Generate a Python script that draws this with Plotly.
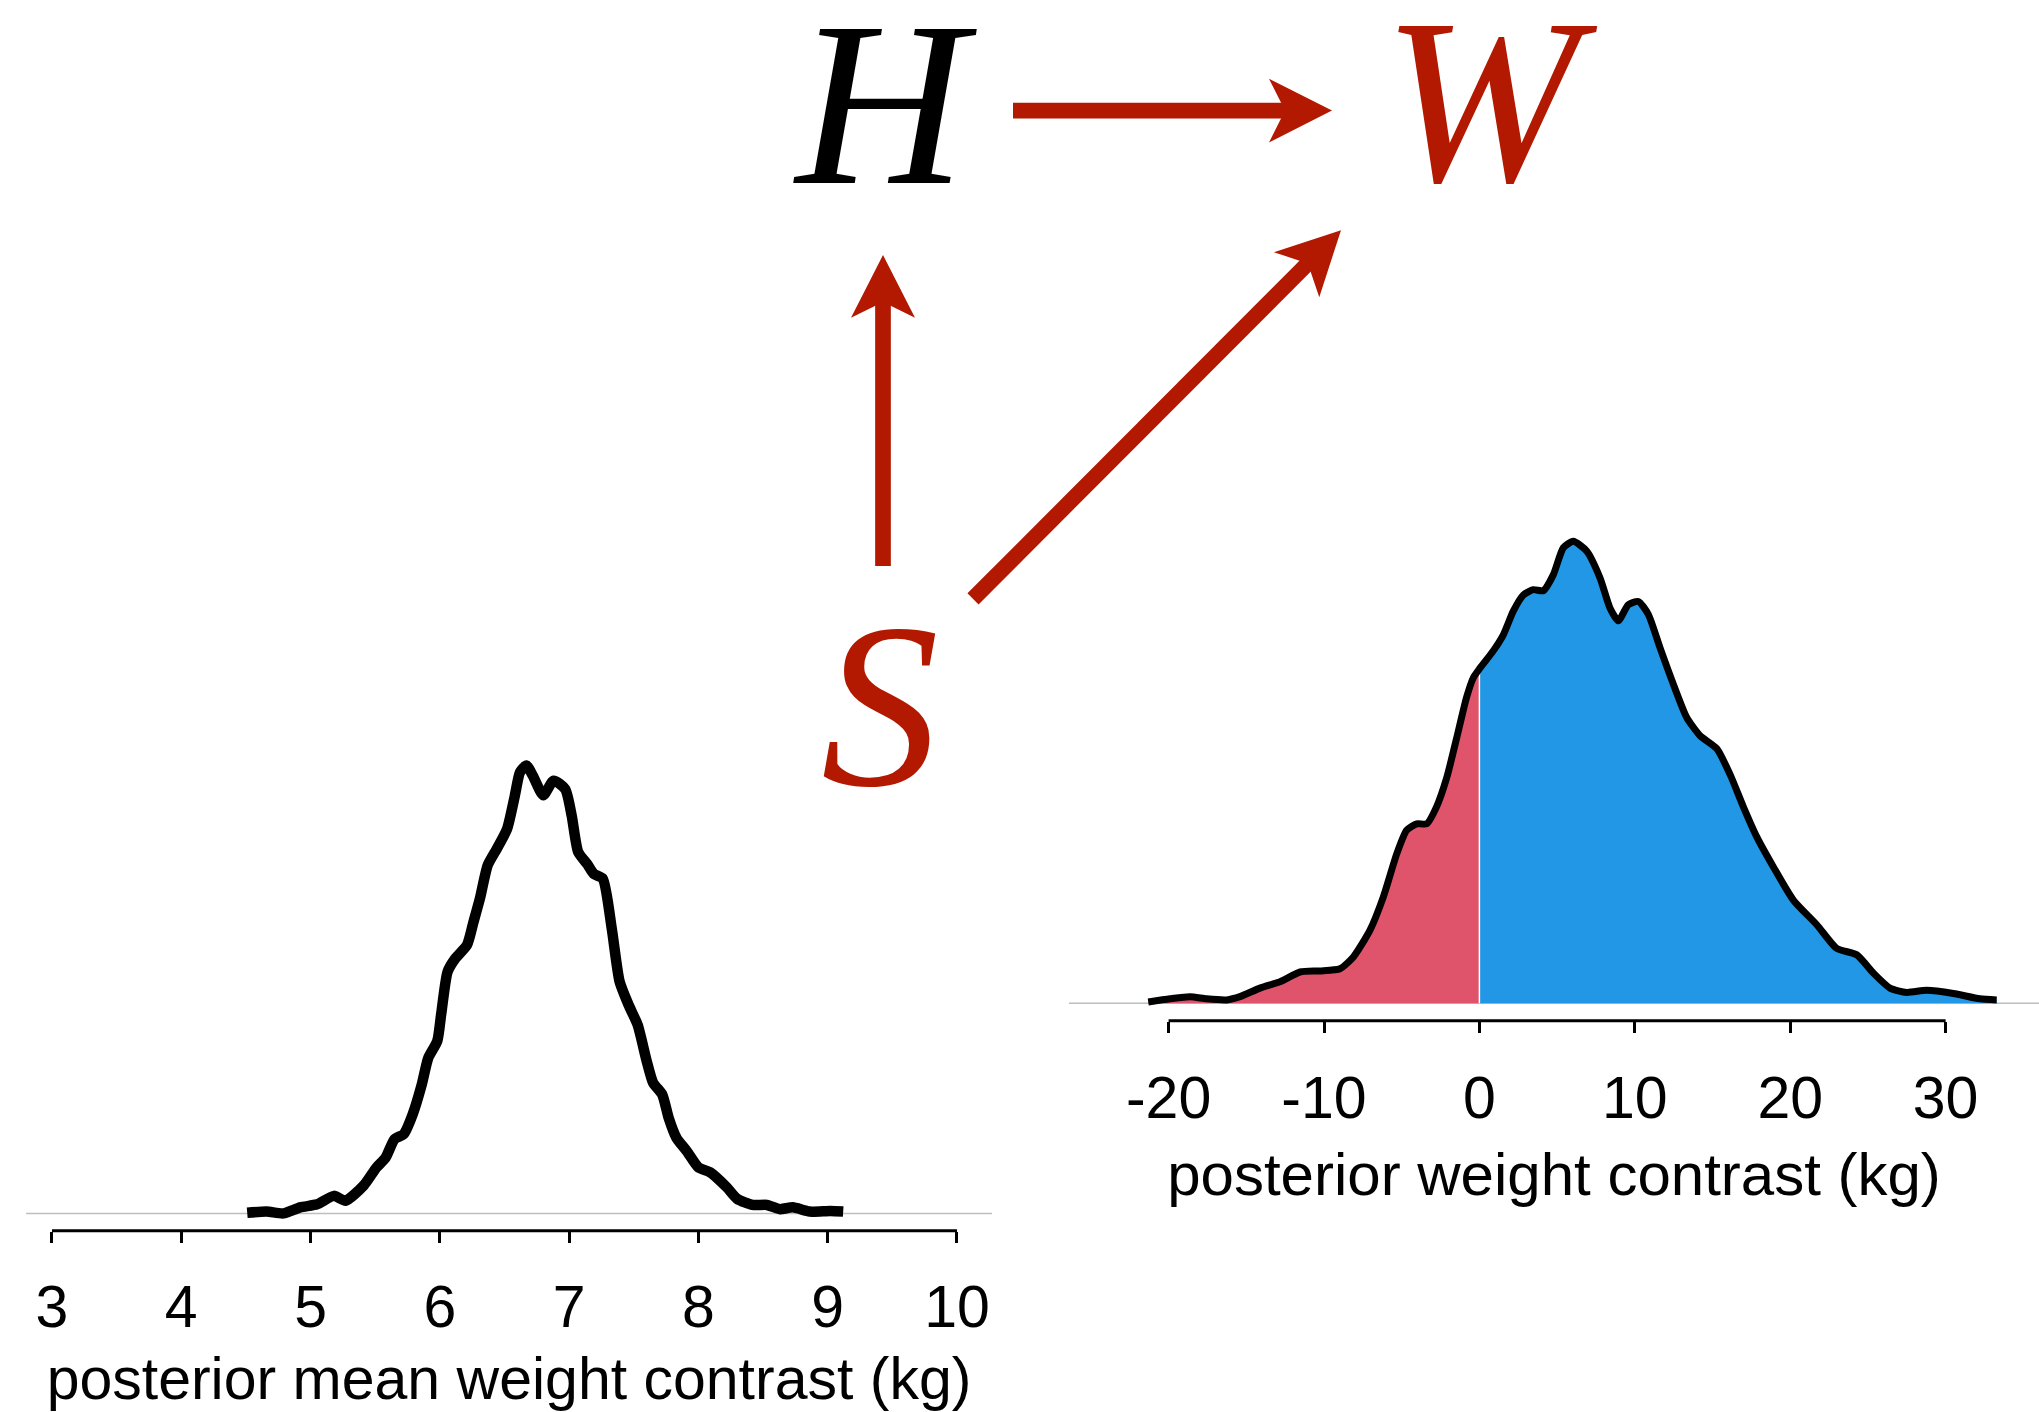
import numpy as np
import plotly.graph_objects as go

CANVAS_W, CANVAS_H = 2039, 1412

# --- posterior mean weight contrast (kg): density curve -------------------
mean_x = [4.51, 4.66, 4.79, 4.92, 5.05, 5.18, 5.27, 5.41, 5.51, 5.58,
          5.65, 5.72, 5.79, 5.86, 5.91, 5.98, 6.01, 6.06, 6.12, 6.21,
          6.26, 6.31, 6.37, 6.44, 6.52, 6.58, 6.62, 6.67, 6.72, 6.80,
          6.88, 6.97, 7.02, 7.07, 7.14, 7.19, 7.26, 7.33, 7.39, 7.46,
          7.53, 7.60, 7.65, 7.72, 7.77, 7.83, 7.91, 8.00, 8.09, 8.22,
          8.30, 8.42, 8.53, 8.63, 8.73, 8.86, 9.02, 9.12]
mean_dens = [0.001, 0.003, 0.000, 0.010, 0.015, 0.029, 0.021, 0.046, 0.076, 0.092,
             0.123, 0.131, 0.164, 0.213, 0.257, 0.285, 0.329, 0.400, 0.422, 0.444,
             0.482, 0.521, 0.576, 0.603, 0.636, 0.691, 0.730, 0.741, 0.724, 0.692,
             0.716, 0.702, 0.658, 0.598, 0.578, 0.562, 0.554, 0.471, 0.384, 0.345,
             0.312, 0.252, 0.216, 0.197, 0.158, 0.125, 0.103, 0.076, 0.068, 0.043,
             0.024, 0.014, 0.014, 0.007, 0.010, 0.003, 0.004, 0.003]
mean_ticks = [3, 4, 5, 6, 7, 8, 9, 10]
mean_tick_labels = ["3", "4", "5", "6", "7", "8", "9", "10"]

# --- posterior weight contrast (kg): density curve ------------------------
contrast_x = [-21.31, -19.91, -18.62, -17.55, -16.26, -15.41, -14.12, -12.83, -11.54, -10.26,
              -8.97, -8.11, -7.04, -6.18, -5.32, -4.68, -4.03, -3.39, -2.75, -2.10,
              -1.46, -0.82, -0.39, 0.04, 0.89, 1.54, 2.18, 2.83, 3.47, 4.11,
              4.76, 5.40, 6.04, 6.90, 7.76, 8.40, 8.94, 9.58, 10.23, 10.87,
              11.62, 12.48, 13.34, 14.20, 15.27, 16.13, 16.98, 17.84, 18.91, 20.20,
              21.71, 22.99, 24.28, 25.35, 26.42, 27.50, 28.78, 30.50, 32.21, 33.29]
contrast_dens = [0.0001, 0.0004, 0.0006, 0.0004, 0.0003, 0.0006, 0.0014, 0.0020, 0.0029, 0.0030,
                 0.0032, 0.0043, 0.0068, 0.0099, 0.0139, 0.0161, 0.0167, 0.0167, 0.0183, 0.0210,
                 0.0247, 0.0285, 0.0303, 0.0312, 0.0328, 0.0343, 0.0365, 0.0380, 0.0385, 0.0384,
                 0.0399, 0.0424, 0.0430, 0.0421, 0.0396, 0.0368, 0.0356, 0.0371, 0.0374, 0.0362,
                 0.0331, 0.0297, 0.0266, 0.0249, 0.0237, 0.0213, 0.0183, 0.0155, 0.0127, 0.0096,
                 0.0073, 0.0051, 0.0045, 0.0028, 0.0014, 0.0010, 0.0012, 0.0009, 0.0004, 0.0003]
contrast_ticks = [-20, -10, 0, 10, 20, 30]
contrast_tick_labels = ["-20", "-10", "0", "10", "20", "30"]

# --- causal diagram: nodes and edges (canvas pixels, y down) ---------------
dag_nodes = {"H": (881, 124), "W": (1481, 121), "S": (880, 729)}
dag_node_colors = {"H": "black", "W": "#B31900", "S": "#B31900"}
dag_edges = [((1013, 111), (1332, 111)),   # H -> W
             ((883, 568), (883, 256)),     # S -> H
             ((973, 601), (1341, 231))]    # S -> W

RED_FILL = "#DF536B"
BLUE_FILL = "#2297E6"
DAG_RED = "#B31900"
SANS = "Liberation Sans, Arial, sans-serif"
SERIF = "Liberation Serif, Times New Roman, serif"
LABEL_SIZE = 59


def px_to_paper_y(py):
    return 1 - py / CANVAS_H


fig = go.Figure()

# left panel: posterior mean contrast
fig.add_trace(go.Scatter(
    x=mean_x, y=mean_dens, mode="lines",
    line=dict(color="black", width=10.5, shape="spline", smoothing=0.6),
    xaxis="x", yaxis="y", hoverinfo="skip", showlegend=False))

# right panel: shaded contrast density, split at zero
y_at_zero = float(np.interp(0.0, contrast_x, contrast_dens))
neg_x = [x for x in contrast_x if x < 0] + [0.0]
neg_y = [y for x, y in zip(contrast_x, contrast_dens) if x < 0] + [y_at_zero]
pos_x = [0.0] + [x for x in contrast_x if x > 0]
pos_y = [y_at_zero] + [y for x, y in zip(contrast_x, contrast_dens) if x > 0]

fig.add_trace(go.Scatter(
    x=neg_x, y=neg_y, mode="lines", fill="tozeroy", fillcolor=RED_FILL,
    line=dict(color=RED_FILL, width=0, shape="spline", smoothing=0.6),
    xaxis="x2", yaxis="y2", hoverinfo="skip", showlegend=False))
fig.add_trace(go.Scatter(
    x=pos_x, y=pos_y, mode="lines", fill="tozeroy", fillcolor=BLUE_FILL,
    line=dict(color=BLUE_FILL, width=0, shape="spline", smoothing=0.6),
    xaxis="x2", yaxis="y2", hoverinfo="skip", showlegend=False))
fig.add_trace(go.Scatter(
    x=[0.0, 0.0], y=[0.0, y_at_zero], mode="lines",
    line=dict(color="white", width=1.5),
    xaxis="x2", yaxis="y2", hoverinfo="skip", showlegend=False))
fig.add_trace(go.Scatter(
    x=contrast_x, y=contrast_dens, mode="lines",
    line=dict(color="black", width=7, shape="spline", smoothing=0.6),
    xaxis="x2", yaxis="y2", hoverinfo="skip", showlegend=False))

# causal diagram letters
for name, (cx, cy) in dag_nodes.items():
    fig.add_trace(go.Scatter(
        x=[cx], y=[cy], mode="text", text=[name], textposition="middle center",
        textfont=dict(family=SERIF, size=236, color=dag_node_colors[name], style="italic"),
        xaxis="x3", yaxis="y3", hoverinfo="skip", showlegend=False))

shapes = []

# baselines at zero density and R-style axis lines spanning first..last tick
shapes.append(dict(type="line", xref="x domain", yref="y", x0=0, x1=1, y0=0, y1=0,
                   line=dict(color="#BEBEBE", width=1.5), layer="below"))
shapes.append(dict(type="line", xref="x2 domain", yref="y2", x0=0, x1=1, y0=0, y1=0,
                   line=dict(color="#BEBEBE", width=1.5), layer="below"))
shapes.append(dict(type="line", xref="x", yref="y domain", x0=mean_ticks[0], x1=mean_ticks[-1],
                   y0=0, y1=0, line=dict(color="black", width=3)))
shapes.append(dict(type="line", xref="x2", yref="y2 domain", x0=contrast_ticks[0], x1=contrast_ticks[-1],
                   y0=0, y1=0, line=dict(color="black", width=3)))

# arrows: thick shaft + notched head
HEAD_LEN, HEAD_HALF, NOTCH, SHAFT_W = 63, 32, 47, 15.7
for (sx, sy), (tx, ty) in dag_edges:
    dx, dy = tx - sx, ty - sy
    L = (dx * dx + dy * dy) ** 0.5
    ux, uy = dx / L, dy / L
    px, py = -uy, ux
    nx, ny = tx - NOTCH * ux, ty - NOTCH * uy
    shapes.append(dict(type="line", xref="x3", yref="y3", x0=sx, y0=sy,
                       x1=nx + 2 * ux, y1=ny + 2 * uy,
                       line=dict(color=DAG_RED, width=SHAFT_W)))
    bx, by = tx - HEAD_LEN * ux, ty - HEAD_LEN * uy
    b1 = (bx + HEAD_HALF * px, by + HEAD_HALF * py)
    b2 = (bx - HEAD_HALF * px, by - HEAD_HALF * py)
    path = (f"M {tx:.2f},{ty:.2f} L {b1[0]:.2f},{b1[1]:.2f} "
            f"L {nx:.2f},{ny:.2f} L {b2[0]:.2f},{b2[1]:.2f} Z")
    shapes.append(dict(type="path", xref="x3", yref="y3", path=path,
                       fillcolor=DAG_RED, line=dict(color=DAG_RED, width=0)))

axis_common = dict(
    ticks="outside", ticklen=11, tickwidth=3, tickcolor="black",
    showline=False, showgrid=False, zeroline=False,
    tickfont=dict(family=SANS, size=LABEL_SIZE, color="black"),
    ticklabelstandoff=14,
    fixedrange=True,
)

fig.update_layout(
    width=CANVAS_W, height=CANVAS_H,
    margin=dict(l=0, r=0, t=0, b=0, pad=0),
    paper_bgcolor="white", plot_bgcolor="rgba(0,0,0,0)",
    showlegend=False,
    xaxis=dict(domain=[26 / CANVAS_W, 992 / CANVAS_W], range=[2.799, 10.271],
               tickvals=mean_ticks, ticktext=mean_tick_labels, anchor="y",
               title=dict(text="posterior mean weight contrast (kg)",
                          font=dict(family=SANS, size=LABEL_SIZE, color="black"),
                          standoff=30),
               **axis_common),
    yaxis=dict(domain=[px_to_paper_y(1235), px_to_paper_y(745)], range=[-0.0285, 0.7794],
               visible=False, anchor="x", fixedrange=True),
    xaxis2=dict(domain=[1069 / CANVAS_W, 1.0], range=[-26.409, 36.010],
                tickvals=contrast_ticks, ticktext=contrast_tick_labels, anchor="y2",
                title=dict(text="posterior weight contrast (kg)",
                           font=dict(family=SANS, size=LABEL_SIZE + 1, color="black"),
                           standoff=23),
                **axis_common),
    yaxis2=dict(domain=[px_to_paper_y(1024.4), px_to_paper_y(530)], range=[-0.001642, 0.04423],
                visible=False, anchor="x2", fixedrange=True),
    xaxis3=dict(domain=[0, 1], range=[0, CANVAS_W], visible=False, anchor="y3", fixedrange=True),
    yaxis3=dict(domain=[0, 1], range=[CANVAS_H, 0], visible=False, anchor="x3", fixedrange=True),
    shapes=shapes,
)

fig.write_html("out.html", config={"displayModeBar": False})
